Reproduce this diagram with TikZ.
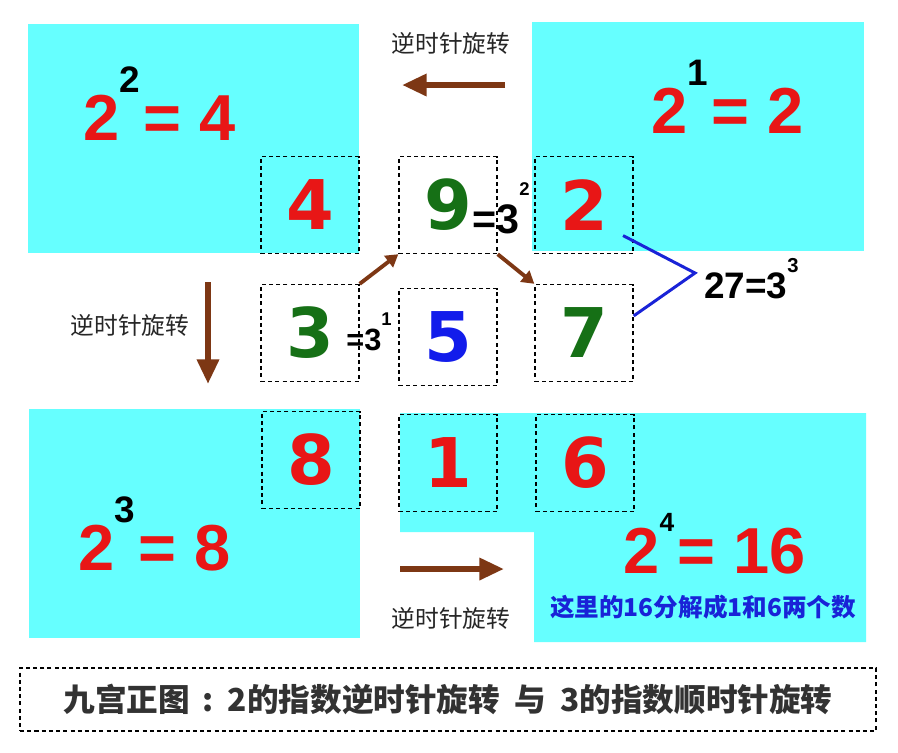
\documentclass[tikz,border=0pt]{standalone}
\usepackage{fontspec}
\usepackage{xcolor}
\usepackage{tikz}
\usetikzlibrary{arrows.meta, positioning}
\newfontfamily\cellfont{DejaVu Sans}
\newfontfamily\eqfont{Liberation Sans}
\newfontfamily\cjk{Noto Sans CJK SC}
\definecolor{panelcyan}{RGB}{102,255,255}
\definecolor{numred}{RGB}{232,22,22}
\definecolor{numgreen}{RGB}{22,112,22}
\definecolor{numblue}{RGB}{18,28,235}
\definecolor{turnbrown}{RGB}{125,55,20}
\definecolor{linkblue}{RGB}{25,35,215}
\definecolor{notegray}{RGB}{50,50,50}
\tikzstyle{panel}=[fill=panelcyan]
\tikzstyle{dots}=[line width=0.8pt, dash pattern=on 2.3pt off 1.8pt]
\tikzstyle{cell}=[draw, dots, minimum width=1.96cm, minimum height=1.94cm, inner sep=0pt, font=\cellfont\bfseries\fontsize{39}{39}\selectfont]
\tikzstyle{power}=[anchor=base west, inner sep=0pt, text=numred, font=\eqfont\bfseries\fontsize{37}{37}\selectfont]
\tikzstyle{expo}=[anchor=base west, inner sep=0pt, text=black]
\tikzstyle{turn}=[turnbrown, line width=3.4pt, -{Triangle[length=14pt, width=12pt]}]
\tikzstyle{move}=[turnbrown, line width=2.2pt, -{Triangle[length=7pt, width=8pt]}]
\tikzstyle{turnlabel}=[inner sep=0pt, text=black!85, font=\cjk\fontsize{13.5}{13.5}\selectfont]
\newcommand\pw[5]{#1\raisebox{#5em}{\color{black}\fontsize{#4}{#4}\selectfont#2}\hspace{0.05em}#3}

\begin{document}
\begin{tikzpicture}[x=0.02cm, y=-0.02cm]
	\fill[white] (0,0) rectangle (898,752);
	\useasboundingbox (0,0) rectangle (898,752);
	\fill[panel] (28,24) rectangle (359,253);
	\fill[panel] (532,22) rectangle (864,251);
	\fill[panel] (29,409) rectangle (360,638);
	\fill[panel] (400,413) -- (866,413) -- (866,642) -- (534,642) -- (534,532) -- (400,532) -- cycle;
	\foreach \d/\x/\y/\c in {4/310/205/numred, 9/448/205/numgreen, 2/584/205/numred, 3/310/333/numgreen, 5/448/337/numblue, 7/584/333/numgreen, 8/311/460/numred, 1/448/463/numred, 6/585/463/numred}
		\node[cell, text=\c] (c\d) at (\x,\y) {\d};
	\foreach \e/\x/\y/\r/\s/\h in {1/651/133/2/21/0.73, 2/83/140/4/21/0.73, 3/78/570/8/21/0.73, 4/623/573/16/15/0.64}
		\node[power] (p\e) at (\x,\y) {\pw{2}{\e}{= \r}{\s}{\h}};
	\node[expo, font=\eqfont\bfseries\fontsize{23.5}{23.5}\selectfont] (e9) at (472,233) {=3\raisebox{0.9em}{\fontsize{10.5}{10.5}\selectfont 2}};
	\node[expo, font=\eqfont\bfseries\fontsize{17.5}{17.5}\selectfont] (e3) at (346,350) {=3\raisebox{0.8em}{\fontsize{10.5}{10.5}\selectfont 1}};
	\coordinate (tip) at (695,273);
	\draw[linkblue, line width=1.7pt, shorten <=-0.24cm] (c2.-36) -- (tip) -- (c7.19);
	\node[expo, font=\eqfont\bfseries\fontsize{21}{21}\selectfont, below right=0.5cm and 0.18cm of tip, anchor=base west] (e27) {27=3\raisebox{0.7em}{\fontsize{11.5}{11.5}\selectfont 3}};
	\draw[move] (c3.north east) -- (c9.south west);
	\draw[move] (c9.south east) -- (c7.north west);
	\coordinate (t1) at (505,85);
	\coordinate (t2) at (402,85);
	\coordinate (l1) at (208,282);
	\coordinate (l2) at (208,384);
	\coordinate (b1) at (400,569);
	\coordinate (b2) at (504,569);
	\foreach \s/\t in {t1/t2, l1/l2, b1/b2}
		\draw[turn] (\s) -- (\t);
	\node[turnlabel] (lt) at (451,43) {逆时针旋转};
	\node[turnlabel] (ll) at (130,325) {逆时针旋转};
	\node[turnlabel] (lb) at (451,618) {逆时针旋转};
	\node[inner sep=0pt, text=linkblue, font=\cjk\bfseries\fontsize{14}{14}\selectfont] (note) at (703,607) {这里的16分解成1和6两个数};
	\node[draw, dots, minimum width=17.12cm, minimum height=1.26cm, text=notegray, font=\cjk\bfseries\fontsize{18}{18}\selectfont] (caption) at (448,699.5) {九宫正图\hspace{0.4em}:\hspace{0.45em}2的指数逆时针旋转\hspace{0.45em}与\hspace{0.45em}3的指数顺时针旋转};
\end{tikzpicture}
\end{document}
